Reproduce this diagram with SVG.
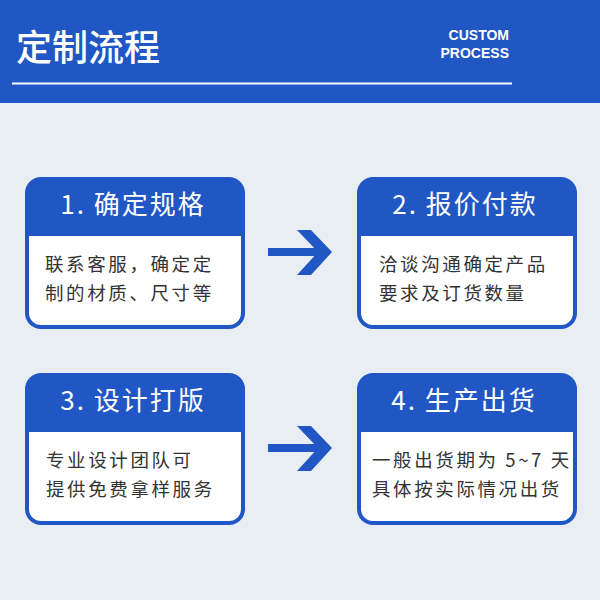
<svg xmlns="http://www.w3.org/2000/svg" width="600" height="600" viewBox="0 0 600 600">
<defs>
<style>
.hdr{font-family:"Noto Sans CJK SC","Noto Sans",sans-serif;fill:#fff}
.en{font-family:"Liberation Sans","Noto Sans",sans-serif;font-weight:bold;font-size:14px;fill:#fff;text-anchor:end}
.card{fill:#2057c5}
.inner{fill:#fff}
.ttl{font-family:"Noto Sans CJK SC",sans-serif;font-size:26px;fill:#fff;text-anchor:middle;letter-spacing:2px}
.body{font-family:"Noto Sans CJK SC",sans-serif;font-size:18.5px;fill:#333;letter-spacing:2.6px}
.arr{fill:#2057c5}
</style>
</defs>
<rect x="0" y="0" width="600" height="600" fill="#e9eef5"/>
<rect x="0" y="0" width="600" height="103" fill="#2057c5"/>
<text class="hdr" x="16" y="61" font-size="36" font-weight="500">定制流程</text>
<text class="en" x="509" y="40">CUSTOM</text>
<text class="en" x="509" y="58">PROCESS</text>
<rect x="12" y="82.5" width="500" height="2" fill="#fff"/>

<g id="step1">
<rect class="card" x="25" y="177" width="220" height="152" rx="16"/>
<path class="inner" d="M29 236H241V313A12 12 0 0 1 229 325H41A12 12 0 0 1 29 313Z"/>
<text class="ttl" x="133" y="214">1. 确定规格</text>
<text class="body" x="45" y="271">联系客服，确定定</text>
<text class="body" x="45" y="300">制的材质、尺寸等</text>
</g>
<g id="step2">
<rect class="card" x="357" y="177" width="220" height="152" rx="16"/>
<path class="inner" d="M361 236H573V313A12 12 0 0 1 561 325H373A12 12 0 0 1 361 313Z"/>
<text class="ttl" x="465" y="214">2. 报价付款</text>
<text class="body" x="379" y="271">洽谈沟通确定产品</text>
<text class="body" x="379" y="300">要求及订货数量</text>
</g>
<g id="step3">
<rect class="card" x="25" y="373" width="220" height="152" rx="16"/>
<path class="inner" d="M29 432H241V509A12 12 0 0 1 229 521H41A12 12 0 0 1 29 509Z"/>
<text class="ttl" x="133" y="410">3. 设计打版</text>
<text class="body" x="46" y="467">专业设计团队可</text>
<text class="body" x="46" y="496">提供免费拿样服务</text>
</g>
<g id="step4">
<rect class="card" x="357" y="373" width="220" height="152" rx="16"/>
<path class="inner" d="M361 432H573V509A12 12 0 0 1 561 521H373A12 12 0 0 1 361 509Z"/>
<text class="ttl" x="464" y="410">4. 生产出货</text>
<text class="body" x="372" y="467" letter-spacing="1.5">一般出货期为 5~7 天</text>
<text class="body" x="372" y="496" letter-spacing="2.8">具体按实际情况出货</text>
</g>

<g id="connectors">
<path class="arr" d="M268 248H318V256H268Z M297 230H311L332 252L311 275H297L318 252Z"/>
<path class="arr" d="M268 444H318V452H268Z M297 426H311L332 448L311 471H297L318 448Z"/>
</g>
</svg>
